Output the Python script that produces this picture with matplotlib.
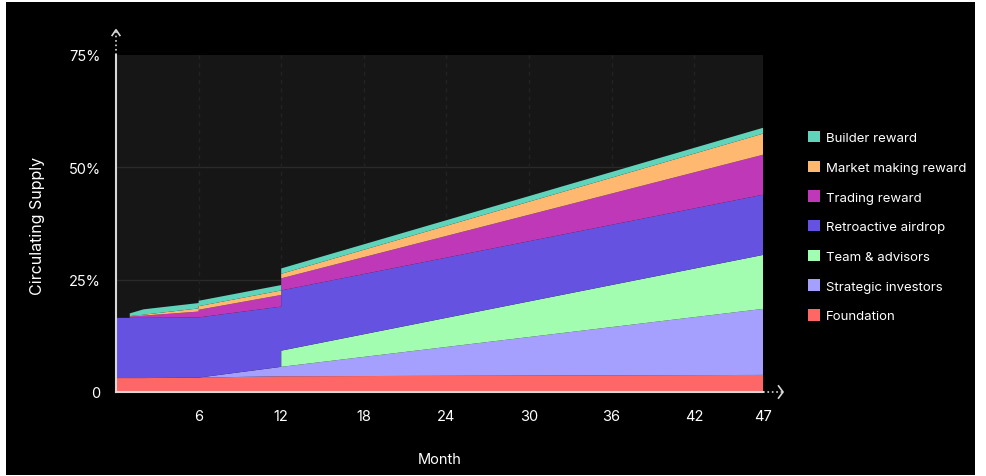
import numpy as np
import matplotlib.pyplot as plt
from matplotlib.patches import Rectangle, Patch

plt.rcParams['font.family'] = ['Inter', 'DejaVu Sans']

# month breakpoints (repeated months = step in the schedule)
months = [0, 1, 1, 2, 6, 6, 12, 12, 47]

# circulating supply per allocation, % of total
foundation = [3.1, 3.1, 3.1, 3.1, 3.2, 3.2, 3.5, 3.5, 3.8]
strategic = [0, 0, 0, 0, 0, 0, 2.1, 2.1, 14.7]
team = [0, 0, 0, 0, 0, 0, 0, 3.6, 12.0]
airdrop = [13.4, 13.4, 13.4, 13.4, 13.4, 13.4, 13.4, 13.4, 13.4]
trading = [0, 0, 0.3, 0.5, 1.3, 1.7, 2.6, 2.7, 8.9]
market = [0, 0, 0.1, 0.2, 0.7, 0.8, 1.0, 1.0, 4.7]
builder = [0, 0, 0.6, 1.2, 1.2, 1.2, 1.2, 1.2, 1.3]

names = ['Foundation', 'Strategic investors', 'Team & advisors', 'Retroactive airdrop',
         'Trading reward', 'Market making reward', 'Builder reward']
colors = ['#ff6666', '#a5a0fd', '#a3fdb1', '#6652e0', '#be38b7', '#ffb870', '#5fd4bb']

xticks = [6, 12, 18, 24, 30, 36, 42, 47]
yticks = [0, 25, 50, 75]
ylabels = ['0', '25%', '50%', '75%']

fig = plt.figure(figsize=(9.86, 4.77), dpi=100)
fig.patch.set_facecolor('white')
fig.patches.append(Rectangle((6/986, 1/477), 969/986, 473/477, transform=fig.transFigure,
                             facecolor='black', edgecolor='none', zorder=-10))

ax = fig.add_axes([116/986, 1 - 393/477, 647/986, 337/477])
ax.set_facecolor('#161616')

ax.stackplot(months, foundation, strategic, team, airdrop, trading, market, builder,
             colors=colors, linewidth=0, zorder=3)

ax.set_xlim(0, 47)
ax.set_ylim(0, 75)
ax.set_xticks(xticks)
ax.set_yticks(yticks)
ax.set_yticklabels(ylabels)
ax.tick_params(length=0, colors='white', labelsize=10.5)
ax.tick_params(axis='x', pad=12)
ax.tick_params(axis='y', pad=11)

# grid
for y in [25, 50]:
    ax.axhline(y, color='#2a2a2a', lw=1, zorder=1)
for x in xticks[:-1]:
    ax.axvline(x, color='#222222', lw=1, ls=(0, (3, 3)), zorder=1)

for s in ['top', 'right']:
    ax.spines[s].set_visible(False)
for s in ['left', 'bottom']:
    ax.spines[s].set_color('#d8d8d8')
    ax.spines[s].set_linewidth(1.5)
    ax.spines[s].set_zorder(5)

# axis arrows
ax.plot([0, 0], [1, 1.075], transform=ax.transAxes, color='#d8d8d8', lw=1.2, ls=':', clip_on=False)
ax.plot([-0.006, 0, 0.006], [1.058, 1.075, 1.058], transform=ax.transAxes, color='#d8d8d8', lw=1.2, clip_on=False)
ax.plot([1, 1.031], [0, 0], transform=ax.transAxes, color='#d8d8d8', lw=1.2, ls=':', clip_on=False)
ax.plot([1.024, 1.031, 1.024], [0.018, 0, -0.018], transform=ax.transAxes, color='#d8d8d8', lw=1.2, clip_on=False)

fig.text(440/986, 1 - 460/477, 'Month', color='white', fontsize=10.5, ha='center', va='center')
fig.text(38/986, 1 - 226/477, 'Circulating Supply', color='white', fontsize=11.5,
         ha='center', va='center', rotation=90)

handles = [Patch(facecolor=c, edgecolor='none') for c in colors][::-1]
leg = fig.legend(handles, names[::-1], loc='upper left', bbox_to_anchor=(796/986, 1 - 120/477),
                 frameon=False, fontsize=9.5, labelcolor='white', handlelength=0.95,
                 handleheight=0.95, handletextpad=0.45, labelspacing=1.25)

fig.savefig('out.png', dpi=100, facecolor=fig.get_facecolor())
